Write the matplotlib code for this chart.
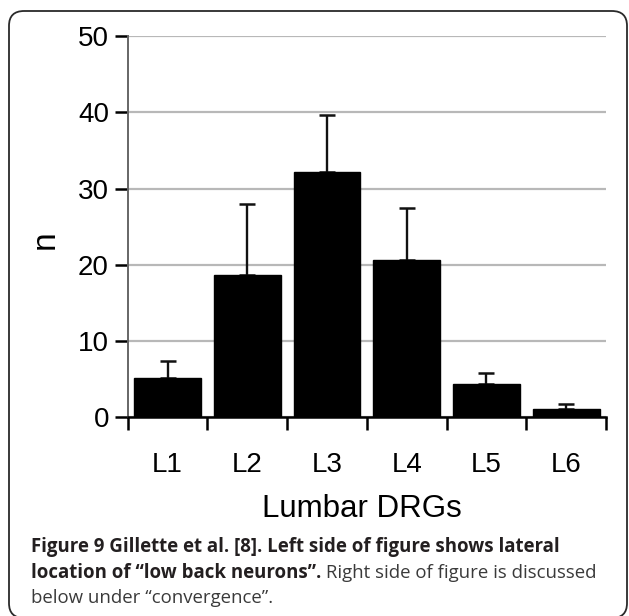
import matplotlib
matplotlib.use("Agg")
import matplotlib.pyplot as plt
from matplotlib.patches import FancyBboxPatch
import numpy as np

categories = ["L1", "L2", "L3", "L4", "L5", "L6"]
means = [5.2, 18.6, 32.2, 20.6, 4.4, 1.1]
err_upper = [2.2, 9.4, 7.5, 6.8, 1.35, 0.6]
yticks = [0, 10, 20, 30, 40, 50]

W, H = 629, 616
fig = plt.figure(figsize=(W / 100, H / 100), dpi=100)
fig.patch.set_facecolor("white")

def fx(px):
    return px / W

def fy(py):
    return 1 - py / H

# axes placement
ax = fig.add_axes([fx(127.7), fy(417.3), fx(606) - fx(127.7), fy(36) - fy(417.3)])

x = np.arange(1, len(categories) + 1)
ax.bar(x, means, width=0.84, color="black", edgecolor="black", zorder=3)
ax.errorbar(x, means, yerr=[np.zeros(len(means)), err_upper], fmt="none",
            ecolor="#111111", elinewidth=1.7, capsize=6, capthick=1.8, zorder=2)

ax.set_xlim(0.5, len(categories) + 0.5)
ax.set_ylim(0, 50)
ax.set_yticks(yticks)
ax.set_yticklabels([str(v) for v in yticks], fontsize=20, family="Liberation Sans")
ax.set_xticks(x)
ax.set_xticklabels(categories, fontsize=20, family="Liberation Sans")
ax.set_xticks(np.arange(0.5, len(categories) + 1, 1.0), minor=True)

ax.tick_params(axis="x", which="major", length=0, pad=25)
ax.tick_params(axis="x", which="minor", length=9, width=1.8, color="black", direction="out")
ax.tick_params(axis="y", which="major", length=9.5, width=1.8, color="black", pad=4, direction="out")

ax.yaxis.grid(True, color="#b8b8b8", linewidth=1.6, zorder=0)
ax.set_axisbelow(True)
for s in ["top", "right"]:
    ax.spines[s].set_visible(False)
ax.spines["left"].set_color("#666666")
ax.spines["left"].set_linewidth(1.4)
ax.spines["bottom"].set_color("black")
ax.spines["bottom"].set_linewidth(1.8)
ax.spines["bottom"].set_zorder(4)

# y label
fig.text(fx(45), fy(240), "n", rotation=90, ha="center", va="center",
         fontsize=24, family="Liberation Sans")
# x label
fig.text(fx(361.5), fy(516.7), "Lumbar DRGs", ha="center", va="baseline",
         fontsize=22.5, family="Liberation Sans")

# caption
cap_font = "Open Sans"
renderer = fig.canvas.get_renderer()
line1 = "Figure 9 Gillette et al. [8]. Left side of figure shows lateral"
probe = fig.text(0, 0, line1, fontsize=10, fontweight="bold", family=cap_font)
w10 = probe.get_window_extent(renderer).width
probe.remove()
cap_size = 10 * (560 - 31) / w10

fig.text(fx(31), fy(551.7), line1, fontsize=cap_size, fontweight="bold",
         family=cap_font, color="#231f20", va="baseline")
b2 = fig.text(fx(31), fy(577.5), "location of \u201clow back neurons\u201d.",
              fontsize=cap_size, fontweight="bold", family=cap_font,
              color="#231f20", va="baseline")
bw = b2.get_window_extent(renderer).width
fig.text(fx(31 + bw), fy(577.5), " Right side of figure is discussed",
         fontsize=cap_size, family=cap_font, color="#3a3a3a", va="baseline")
fig.text(fx(31), fy(603.3), "below under \u201cconvergence\u201d.",
         fontsize=cap_size, family=cap_font, color="#3a3a3a", va="baseline")

# rounded border
border = FancyBboxPatch((fx(9), fy(618)), fx(627) - fx(9), fy(11) - fy(618),
                        boxstyle="round,pad=0,rounding_size=0.024",
                        transform=fig.transFigure, facecolor="none",
                        edgecolor="#2a2a2a", linewidth=1.3)
fig.add_artist(border)

fig.savefig("out.png", dpi=100, facecolor="white")
